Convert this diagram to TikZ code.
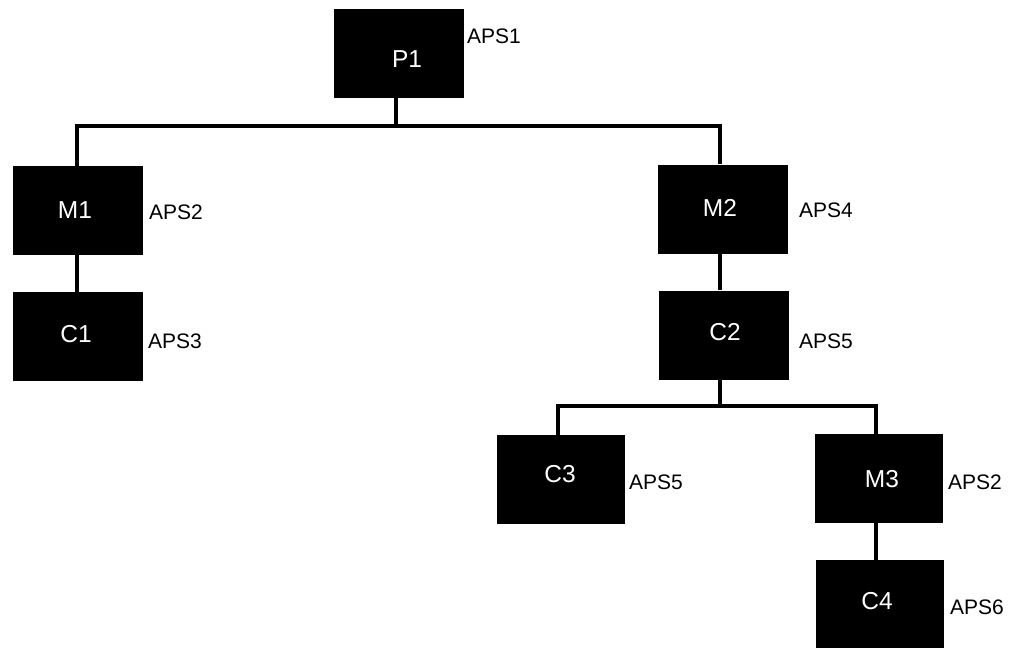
\documentclass[tikz,border=0pt]{standalone}
\usepackage{fontspec}
\setmainfont{Liberation Sans}
\begin{document}
\begin{tikzpicture}[x=1pt,y=-1pt,
  blk/.style={draw=none,fill=black,inner sep=0pt,minimum width=130pt,minimum height=89pt},
  blktext/.style={text=white,inner sep=0pt,font=\fontsize{24.5}{28}\selectfont},
  aps/.style={anchor=west,inner sep=0pt,font=\fontsize{21}{25}\selectfont},
  wire/.style={line width=4pt,black}]
\useasboundingbox (0,0) rectangle (1016,648);
\node[blk] (P1) at (398.5,53.5) {};
\node[blk] (M1) at (77.5,210.5) {};
\node[blk] (C1) at (78,336.5) {};
\node[blk] (M2) at (723,209) {};
\node[blk] (C2) at (724,335) {};
\node[blk,minimum width=128pt] (C3) at (561,479.5) {};
\node[blk,minimum width=128pt] (M3) at (879,478.5) {};
\node[blk,minimum width=128pt,minimum height=88pt] (C4) at (880,604) {};
\node[blktext] (tP1) at (407,59) {P1};
\node[blktext] (tM1) at (75,210) {M1};
\node[blktext] (tC1) at (76,334) {C1};
\node[blktext] (tM2) at (720,208) {M2};
\node[blktext] (tC2) at (725,332) {C2};
\node[blktext] (tC3) at (560,474) {C3};
\node[blktext] (tM3) at (882,479) {M3};
\node[blktext] (tC4) at (877,601) {C4};
\node[aps] (a1) at (467,36) {APS1};
\node[aps] (a2) at (149,212) {APS2};
\node[aps] (a3) at (148,341) {APS3};
\node[aps] (a4) at (799,210) {APS4};
\node[aps] (a5) at (799,341) {APS5};
\node[aps] (a6) at (629,482) {APS5};
\node[aps] (a7) at (948,482) {APS2};
\node[aps] (a8) at (950,607) {APS6};
\coordinate (t0) at (396,126);
\coordinate (tl) at (77,126);
\coordinate (tr) at (720,126);
\coordinate (b0) at (720,406);
\coordinate (bl) at (558,406);
\coordinate (br) at (876,406);
\draw[wire] (t0 |- P1.south) -- (t0);
\draw[wire] (tl |- M1.north) -- (tl) -- (tr) -- (tr |- M2.north);
\draw[wire] (tl |- M1.south) -- (tl |- C1.north);
\draw[wire] (tr |- M2.south) -- (tr |- C2.north);
\draw[wire] (b0 |- C2.south) -- (b0);
\draw[wire] (bl |- C3.north) -- (bl) -- (br) -- (br |- M3.north);
\draw[wire] (br |- M3.south) -- (br |- C4.north);
\end{tikzpicture}
\end{document}
